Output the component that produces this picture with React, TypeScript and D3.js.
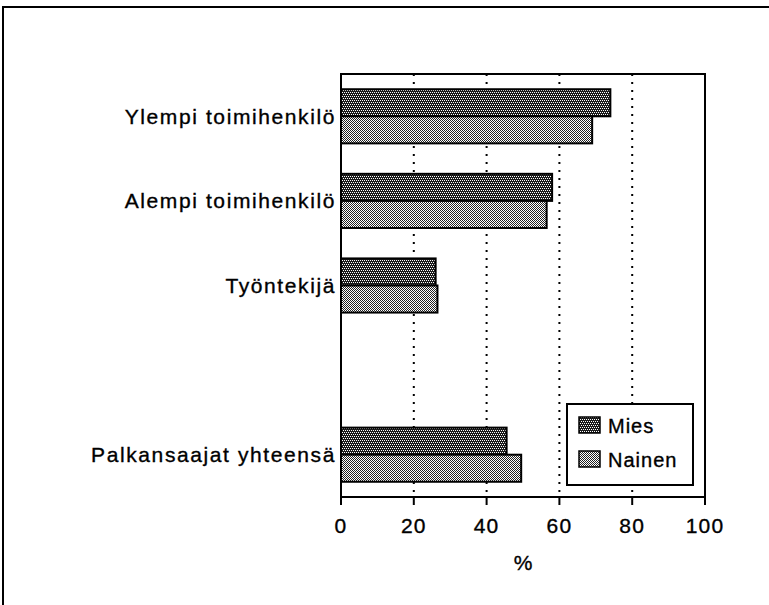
import React from "react";
import * as d3 from "d3";

const categories = ["Ylempi toimihenkilö", "Alempi toimihenkilö", "Työntekijä", "", "Palkansaajat yhteensä"];
const seriesNames = ["Mies", "Nainen"];
const miesValues = [74, 58, 26, null, 45.5];
const naisValues = [69, 56.5, 26.5, null, 49.5];
const xTicks = [0, 20, 40, 60, 80, 100];
const gridTicks = [20, 40, 60, 80];
const axisTitle = "%";

const W = 769;
const H = 605;
const FONT = "'Liberation Sans', Arial, Helvetica, sans-serif";

export default function App() {
  const x = d3.scaleLinear().domain([0, 100]).range([341, 705]);
  const y = d3
    .scaleBand<string>()
    .domain(categories.map((c, i) => String(i)))
    .range([74, 497])
    .paddingInner(0.36)
    .paddingOuter(0.18);
  const inner = d3.scaleBand<string>().domain(seriesNames).range([0, y.bandwidth()]);
  const fills: Record<string, string> = { Mies: "url(#pMies)", Nainen: "url(#pNainen)" };
  const values: Record<string, (number | null)[]> = { Mies: miesValues, Nainen: naisValues };

  const [x0, x1] = x.range();
  const [y0, y1] = [74, 497];
  const textStroke = { stroke: "#000", strokeWidth: 0.35 };

  return (
    <svg
      width={W}
      height={H}
      style={{ position: "absolute", left: 0, top: 0, background: "#fff" }}
      fontFamily={FONT}
    >
      <defs>
        <pattern id="pMies" patternUnits="userSpaceOnUse" width={4} height={4}>
          <rect width={4} height={4} fill="#1a1a1a" shapeRendering="crispEdges" />
          <rect x={0} y={0} width={1} height={1} fill="#fff" shapeRendering="crispEdges" />
          <rect x={2} y={0} width={1} height={1} fill="#fff" shapeRendering="crispEdges" />
          <rect x={1} y={2} width={1} height={1} fill="#fff" shapeRendering="crispEdges" />
          <rect x={3} y={2} width={1} height={1} fill="#fff" shapeRendering="crispEdges" />
        </pattern>
        <pattern id="pNainen" patternUnits="userSpaceOnUse" width={2} height={2}>
          <rect width={2} height={2} fill="#fff" shapeRendering="crispEdges" />
          <rect x={0} y={0} width={1} height={1} fill="#222" shapeRendering="crispEdges" />
          <rect x={1} y={1} width={1} height={1} fill="#222" shapeRendering="crispEdges" />
        </pattern>
      </defs>

      {/* outer frame */}
      <path d={`M3,${H} L3,7 L${W},7`} fill="none" stroke="#000" strokeWidth={2} />

      {/* grid lines */}
      {gridTicks.map((t) => (
        <line
          key={"g" + t}
          x1={x(t)}
          x2={x(t)}
          y1={y0}
          y2={y1}
          stroke="#000"
          strokeWidth={2}
          strokeDasharray="2,6"
        />
      ))}

      {/* bars */}
      {categories.map((c, i) =>
        seriesNames.map((s) => {
          const v = values[s][i];
          if (v == null) return null;
          const yy = (y(String(i)) as number) + (inner(s) as number);
          return (
            <rect
              key={c + s}
              x={x(0)}
              y={yy}
              width={x(v) - x(0)}
              height={inner.bandwidth()}
              fill={fills[s]}
              stroke="#000"
              strokeWidth={2}
            />
          );
        })
      )}

      {/* plot frame */}
      <path
        d={`M${x0},${y1} L${x0},${y0} L${x1},${y0} L${x1},${y1} L${x0},${y1}`}
        fill="none"
        stroke="#000"
        strokeWidth={2}
      />

      {/* x ticks */}
      {xTicks.map((t) => (
        <g key={"t" + t}>
          <line x1={x(t)} x2={x(t)} y1={y1} y2={y1 + 8} stroke="#000" strokeWidth={2} />
          <text x={x(t)} y={533} textAnchor="middle" fontSize={21} letterSpacing={1.2} {...textStroke}>
            {t}
          </text>
        </g>
      ))}
      <text x={(x0 + x1) / 2} y={570} textAnchor="middle" fontSize={21} {...textStroke}>
        {axisTitle}
      </text>

      {/* category labels */}
      {categories.map((c, i) =>
        c ? (
          <text
            key={"c" + i}
            x={336}
            y={(y(String(i)) as number) + y.bandwidth() / 2 + 7.5}
            textAnchor="end"
            fontSize={21}
            letterSpacing={1.6}
            {...textStroke}
          >
            {c}
          </text>
        ) : null
      )}

      {/* legend */}
      <rect x={567} y={404} width={126} height={81} fill="#fff" stroke="#000" strokeWidth={2} />
      {seriesNames.map((s, i) => (
        <g key={"l" + s} transform={`translate(579, ${417 + i * 34})`}>
          <rect width={21} height={16} fill={fills[s]} stroke="#000" strokeWidth={1.5} />
          <text x={29} y={15.5} fontSize={20} letterSpacing={1} {...textStroke}>
            {s}
          </text>
        </g>
      ))}
    </svg>
  );
}
